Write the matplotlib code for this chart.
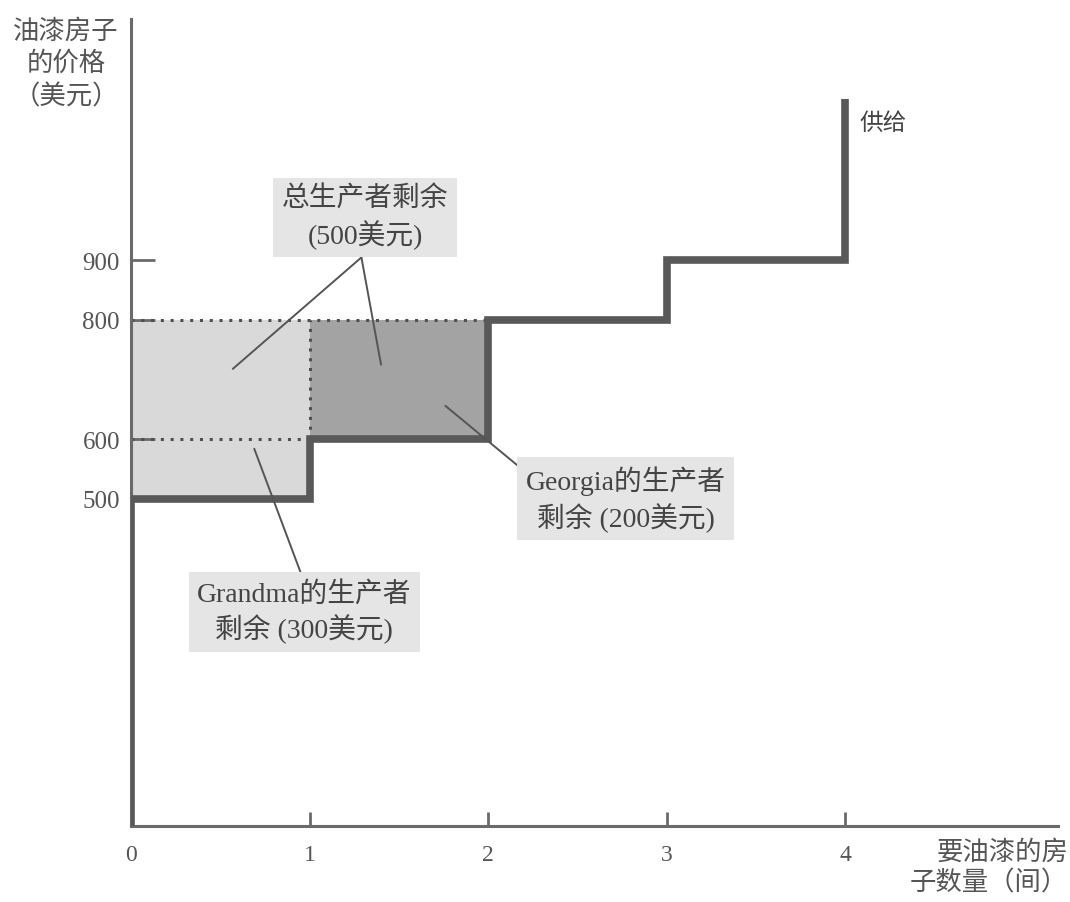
import matplotlib
matplotlib.use("Agg")
import matplotlib.pyplot as plt
from matplotlib.patches import Rectangle

plt.rcParams['font.family'] = ['Liberation Serif', 'Noto Sans CJK SC', 'DejaVu Sans']

# ---- data ----
supply_qty = [0, 0, 1, 1, 2, 2, 3, 3, 4, 4]
supply_price = [500, 500, 600, 600, 800, 800, 900, 900, 1170]   # after the first point
market_price = 800
sellers = ["Grandma", "Georgia"]
seller_costs = [500, 600]
x_ticks = [0, 1, 2, 3, 4]
y_ticks = [500, 600, 800, 900]
y_label = "油漆房子\n的价格\n（美元）"
x_label = "要油漆的房\n子数量（间）"
supply_label = "供给"
total_label = "总生产者剩余\n(500美元)"
grandma_label = "Grandma的生产者\n剩余 (300美元)"
georgia_label = "Georgia的生产者\n剩余 (200美元)"

fig = plt.figure(figsize=(10.70, 9.03), dpi=100)
ax = fig.add_axes([131/1070, 76/903, 927/1070, 807/903])
ax.set_xlim(0, 5.19)
ax.set_ylim(-49, 1305)

axis_col = '#6a6a6a'
curve_col = '#595959'

# surplus areas
fills = ['#d9d9d9', '#a3a3a3']
for i, (name, cost) in enumerate(zip(sellers, seller_costs)):
    ax.add_patch(Rectangle((i, cost), 1, market_price - cost, facecolor=fills[i],
                           edgecolor='none', zorder=1))

# dotted guide lines
dot_kw = dict(color='#505050', lw=2.2, linestyle=(0, (1, 2.2)), zorder=2)
ax.plot([0, 2], [market_price, market_price], **dot_kw)
ax.plot([0, 1], [seller_costs[1], seller_costs[1]], **dot_kw)
ax.plot([1, 1], [seller_costs[1], market_price], **dot_kw)

# supply curve
ybot = ax.get_ylim()[0]
ax.plot(supply_qty, [ybot] + supply_price, color=curve_col, lw=5.5,
        solid_joinstyle='miter', solid_capstyle='butt', zorder=4)
ax.text(supply_qty[-1] + 0.08, supply_price[-1] - 40, supply_label, fontsize=17,
        color='#444444', va='center', ha='left')

# axes styling
for s in ['top', 'right']:
    ax.spines[s].set_visible(False)
for s in ['left', 'bottom']:
    ax.spines[s].set_color(axis_col)
    ax.spines[s].set_linewidth(2.2)
ax.set_xticks(x_ticks)
ax.set_yticks(y_ticks)
ax.tick_params(axis='x', direction='in', length=10, width=2, color=axis_col,
               labelsize=17, labelcolor='#555555', pad=13)
ax.tick_params(axis='y', direction='in', length=17, width=2, color=axis_col,
               labelsize=18, labelcolor='#555555', pad=8)

fig.text(66/1070, 1 - 64/903, y_label, ha='center', va='center', fontsize=19,
         color='#555555', linespacing=1.4)
fig.text(1068/1070, 1 - 868/903, x_label, ha='right', va='center', fontsize=19,
         color='#555555', linespacing=1.3)

# annotations
box = dict(boxstyle='square,pad=0.3', facecolor='#e5e5e5', edgecolor='none')
ln = dict(arrowstyle='-', color='#555555', lw=1.4, shrinkA=0, shrinkB=0)
txt_kw = dict(fontsize=20, color='#444444', ha='center', va='center',
              linespacing=1.3, bbox=box, zorder=6)

ax.text(1.31, 972, total_label, **txt_kw)
ax.annotate('', xy=(0.57, 718), xytext=(1.29, 905), arrowprops=ln, zorder=5)
ax.annotate('', xy=(1.40, 725), xytext=(1.29, 905), arrowprops=ln, zorder=5)

ax.text(2.77, 500, georgia_label, **txt_kw)
ax.annotate('', xy=(1.76, 656), xytext=(2.18, 552), arrowprops=ln, zorder=5)

ax.text(0.97, 310, grandma_label, **txt_kw)
ax.annotate('', xy=(0.69, 584), xytext=(0.95, 376), arrowprops=ln, zorder=5)

fig.savefig('out.png', dpi=100)
